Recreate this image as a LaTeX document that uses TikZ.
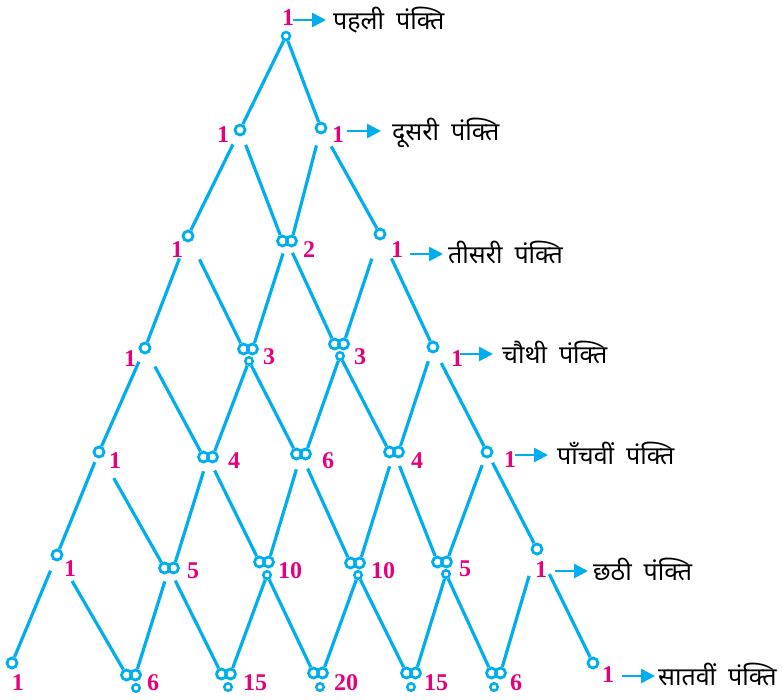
\documentclass[tikz,border=0pt]{standalone}
\usepackage{fontspec}
\setmainfont{Liberation Serif}
\newfontfamily\hindi[Script=Devanagari]{Noto Sans}
\usetikzlibrary{calc,arrows.meta}
\definecolor{cy}{RGB}{0,174,239}
\definecolor{mg}{RGB}{230,0,126}
\newcommand\mkone[3]{\coordinate (P-#1) at (#2,#3); \node[ring,alias=R-#1] (L-#1) at (P-#1) {};}
\newcommand\mktwo[3]{\coordinate (P-#1) at (#2,#3); \node[ring] (L-#1) at ($(P-#1)+(-4.5,0)$) {}; \node[ring] (R-#1) at ($(P-#1)+(4.5,0)$) {};}
\newcommand\mksm[3]{\node[sring] (S-#1) at (#2,#3) {};}
\newcommand\lnk[3]{\draw[ln] ($(P-#1)!#3!(#2)$) -- (#2);}
\newcommand\slnk[2]{\draw[ln] (S-#1) -- (#2);}
\newcommand\rowlab[6]{% name, arrow start x, arrow end x, y, text x, text
  \coordinate (#1s) at (#2,#4); \coordinate (#1e) at (#3,#4);
  \draw[arr] (#1s) -- (#1e);
  \node[lab] (#1t) at (#5,#4+9) {#6};}
\begin{document}
\begin{tikzpicture}[x=1pt,y=-1pt,
  ring/.style={circle,draw=cy,line width=2.8pt,minimum size=10pt,inner sep=0pt},
  sring/.style={circle,draw=cy,line width=2.5pt,minimum size=7.5pt,inner sep=0pt},
  ln/.style={draw=cy,line width=3.2pt},
  num/.style={text=mg,font=\fontsize{24}{24}\selectfont\bfseries,inner sep=0pt},
  arr/.style={draw=cy,line width=2.6pt,-{Triangle[length=14pt,width=14pt]}},
  lab/.style={font=\hindi\fontsize{25}{28}\selectfont,anchor=base west,inner sep=0pt}]
\useasboundingbox (0,0) rectangle (783,699);
% ---------- nodes ----------
\coordinate (P-1-0) at (286,36);
\node[circle,draw=cy,line width=2.5pt,minimum size=8pt,inner sep=0pt,alias=R-1-0] (L-1-0) at (P-1-0) {};
\mkone{2-0}{240}{130} \mkone{2-1}{321}{128}
\mkone{3-0}{188}{236} \mktwo{3-1}{287}{241} \mkone{3-2}{380}{234}
\mkone{4-0}{145}{348} \mktwo{4-1}{248}{349} \mksm{4-1}{249}{361}
\mktwo{4-2}{339}{344} \mksm{4-2}{340}{356} \mkone{4-3}{433}{347}
\mkone{5-0}{99}{452} \mktwo{5-1}{208}{457} \mktwo{5-2}{301}{454}
\mktwo{5-3}{394}{452} \mkone{5-4}{487}{452}
\mkone{6-0}{57}{555} \mktwo{6-1}{169}{568} \mktwo{6-2}{264}{562} \mksm{6-2}{267}{575}
\mktwo{6-3}{355}{563} \mksm{6-3}{358}{575} \mktwo{6-4}{442}{562} \mksm{6-4}{446}{574}
\mkone{6-5}{537}{549}
\mkone{7-0}{12}{663} \mktwo{7-1}{131}{675} \mksm{7-1}{136}{688}
\mktwo{7-2}{226}{674} \mksm{7-2}{228}{687} \mktwo{7-3}{318}{673} \mksm{7-3}{320}{687}
\mktwo{7-4}{411}{673} \mksm{7-4}{411}{687} \mktwo{7-5}{496}{673} \mksm{7-5}{494}{687}
\mkone{7-6}{593}{663}
% ---------- connectors ----------
\draw[ln] (L-1-0) -- (R-2-0); \draw[ln] (L-1-0) -- (L-2-1);
\lnk{2-0}{R-3-0}{16pt} \lnk{2-0}{L-3-1}{16pt}
\lnk{2-1}{R-3-1}{18pt} \lnk{2-1}{L-3-2}{21pt}
\lnk{3-0}{R-4-0}{24pt} \lnk{3-0}{L-4-1}{26pt}
\lnk{3-1}{R-4-1}{13pt} \lnk{3-1}{L-4-2}{13pt}
\lnk{3-2}{R-4-2}{26pt} \lnk{3-2}{L-4-3}{27pt}
\lnk{4-0}{R-5-0}{15pt} \lnk{4-0}{L-5-1}{21pt}
\slnk{4-1}{R-5-1} \slnk{4-1}{L-5-2}
\slnk{4-2}{R-5-2} \slnk{4-2}{L-5-3}
\lnk{4-3}{R-5-3}{15pt} \lnk{4-3}{L-5-4}{18pt}
\lnk{5-0}{R-6-0}{11pt} \lnk{5-0}{L-6-1}{30pt}
\lnk{5-1}{R-6-1}{15pt} \lnk{5-1}{L-6-2}{15pt}
\lnk{5-2}{R-6-2}{16pt} \lnk{5-2}{L-6-3}{16pt}
\lnk{5-3}{R-6-3}{15pt} \lnk{5-3}{L-6-4}{15pt}
\lnk{5-4}{R-6-4}{14pt} \lnk{5-4}{L-6-5}{12pt}
\lnk{6-0}{R-7-0}{17pt} \lnk{6-0}{L-7-1}{30pt}
\lnk{6-1}{R-7-1}{14pt} \lnk{6-1}{L-7-2}{14pt}
\slnk{6-2}{R-7-2} \slnk{6-2}{L-7-3}
\slnk{6-3}{R-7-3} \slnk{6-3}{L-7-4}
\slnk{6-4}{R-7-4} \slnk{6-4}{L-7-5}
\lnk{6-5}{R-7-5}{28pt} \lnk{6-5}{L-7-6}{28pt}
% ---------- numbers ----------
\node[num] (n10) at (288,18) {1};
\node[num] (n20) at (223,135) {1};
\node[num] (n21) at (338,135) {1};
\node[num] (n30) at (177,250) {1};
\node[num] (n31) at (309,250) {2};
\node[num] (n32) at (397,250) {1};
\node[num] (n40) at (130,359) {1};
\node[num] (n41) at (269,357) {3};
\node[num] (n42) at (360,357) {3};
\node[num] (n43) at (457,359) {1};
\node[num] (n50) at (115,461) {1};
\node[num] (n51) at (234,461) {4};
\node[num] (n52) at (328,461) {6};
\node[num] (n53) at (417,461) {4};
\node[num] (n54) at (510,460) {1};
\node[num] (n60) at (70,569) {1};
\node[num] (n61) at (193,571) {5};
\node[num] (n62) at (290,571) {10};
\node[num] (n63) at (383,571) {10};
\node[num] (n64) at (465,569) {5};
\node[num] (n65) at (541,570) {1};
\node[num] (n70) at (18,683) {1};
\node[num] (n71) at (153,683) {6};
\node[num] (n72) at (255,683) {15};
\node[num] (n73) at (346,683) {20};
\node[num] (n74) at (436,683) {15};
\node[num] (n75) at (516,683) {6};
\node[num] (n76) at (608,675) {1};
% ---------- row labels ----------
\rowlab{r1}{293}{326}{20}{333}{पहली\hspace{12pt}पंक्ति}
\rowlab{r2}{347}{381}{131}{392}{दूसरी\hspace{12pt}पंक्ति}
\rowlab{r3}{410}{443}{254}{448}{तीसरी\hspace{12pt}पंक्ति}
\rowlab{r4}{460}{493}{354}{502}{चौथी\hspace{12pt}पंक्ति}
\rowlab{r5}{515}{548}{455}{557}{पाँचवीं\hspace{12pt}पंक्ति}
\rowlab{r6}{555}{588}{571}{593}{छठी\hspace{12pt}पंक्ति}
\rowlab{r7}{622}{655}{676}{658}{सातवीं\hspace{12pt}पंक्ति}
\end{tikzpicture}
\end{document}
